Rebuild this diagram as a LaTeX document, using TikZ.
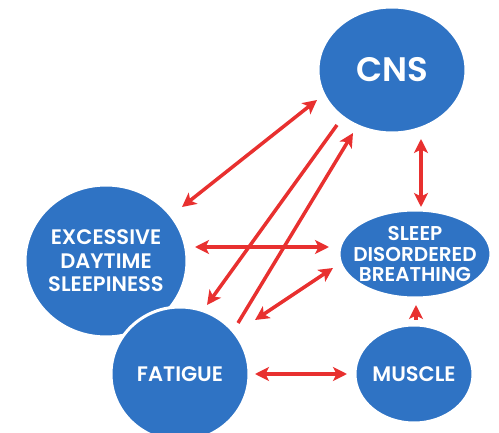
\documentclass[tikz,border=0pt]{standalone}
\usepackage{fontspec}
\setmainfont{Poppins}[BoldFont={Poppins SemiBold}]
\usetikzlibrary{shapes.geometric,arrows.meta}
\definecolor{nodeblue}{HTML}{2F73C4}
\definecolor{arrred}{HTML}{E8302F}
\tikzset{
  blob/.style={ellipse, fill=nodeblue, draw=white, line width=3pt, text=white, align=center, inner sep=-25pt, font=\fontsize{21}{23.5}\selectfont\bfseries},
  link/.style={draw=arrred, line width=3.5pt},
  tip/.style={-{Stealth[length=14pt,width=14pt,inset=3.5pt]}},
  tips/.style={{Stealth[length=14pt,width=14pt,inset=3.5pt]}-{Stealth[length=14pt,width=14pt,inset=3.5pt]}}
}
\begin{document}
\begin{tikzpicture}[x=1pt,y=-1pt]
\useasboundingbox (0,0) rectangle (499,433);
\node[blob, minimum width=148pt, minimum height=126pt, font=\fontsize{34}{36}\selectfont\bfseries] (cns) at (392,70) {CNS};
\node[blob, minimum width=162pt, minimum height=152pt] (eds) at (106,261) {EXCESSIVE\\DAYTIME\\SLEEPINESS};
\node[blob, minimum width=138pt, minimum height=134pt] (fat) at (180,374) {FATIGUE};
\node[blob, minimum width=152pt, minimum height=88pt, font=\fontsize{20}{20.5}\selectfont\bfseries] (sdb) at (415,254) {SLEEP\\DISORDERED\\BREATHING};
\node[blob, minimum width=118pt, minimum height=98pt] (mus) at (414,374) {MUSCLE};
% arrow end points
\coordinate (a1s) at (317,100); \coordinate (a1e) at (182,207);
\coordinate (a2s) at (337,125); \coordinate (a2e) at (207,305);
\coordinate (a3s) at (238,323); \coordinate (a3e) at (353,133);
\coordinate (a4s) at (195,247); \coordinate (a4e) at (329,247);
\coordinate (a5s) at (333,268); \coordinate (a5e) at (255,320);
\coordinate (a6s) at (421,139); \coordinate (a6e) at (421,207);
\coordinate (a7s) at (416,320); \coordinate (a7e) at (416,305);
\coordinate (a8s) at (255,374); \coordinate (a8e) at (347,374);
\draw[link,tips] (a1s) -- (a1e);
\draw[link,tip] (a2s) -- (a2e);
\draw[link,tip] (a3s) -- (a3e);
\draw[link,tips] (a4s) -- (a4e);
\draw[link,tips] (a5s) -- (a5e);
\draw[link,tips] (a6s) -- (a6e);
\draw[link,tip] (a7s) -- (a7e);
\draw[link,tips] (a8s) -- (a8e);
\end{tikzpicture}
\end{document}
